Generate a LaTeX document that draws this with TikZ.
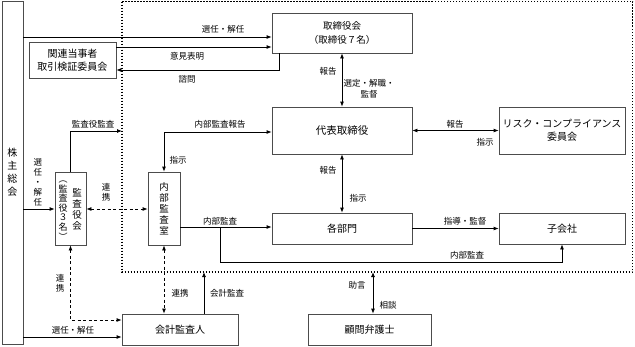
\documentclass[tikz,border=0pt]{standalone}
\usepackage{fontspec}
\setmainfont{Noto Sans CJK JP}
\usetikzlibrary{arrows.meta}
\newcommand\fsz[2]{\fontsize{#1}{#2}\selectfont}
\tikzset{
  bx/.style={draw=black!70, line width=0.8pt, inner sep=0pt, font=\fsz{10}{13}, align=center},
  lbl/.style={font=\fsz{8.5}{10}, inner sep=0pt, align=center},
  arr/.style={line width=0.8pt, -{Latex[length=5pt,width=4pt]}},
  darr/.style={line width=0.8pt, {Latex[length=5pt,width=4pt]}-{Latex[length=5pt,width=4pt]}},
  dsh/.style={dash pattern=on 3pt off 2.5pt},
  dotb/.style={line width=1.5pt, dash pattern=on 1.5pt off 1.5pt}
}
\begin{document}
\begin{tikzpicture}[x=1pt,y=-1pt]
\useasboundingbox (0,0) rectangle (635,346);
\draw[dotb] (122,1.5) rectangle (632.5,272);

% boxes
\node[bx, minimum width=21pt, minimum height=343pt] (kabu) at (12.5,172.5) {株\\主\\総\\会};
\node[bx, minimum width=140pt, minimum height=40pt, font=\fsz{9.5}{14}] (tori) at (342,33) {取締役会\\（取締役７名）};
\node[bx, minimum width=87pt, minimum height=36pt] (kanren) at (72.5,60) {関連当事者\\取引検証委員会};
\node[bx, minimum width=140pt, minimum height=47pt, font=\fsz{10.5}{13}] (daihyo) at (342,130.5) {代表取締役};
\node[bx, minimum width=126pt, minimum height=47pt] (risk) at (562,130.5) {リスク・コンプライアンス\\委員会};
\node[bx, minimum width=140pt, minimum height=31pt] (kakubu) at (342,228.5) {各部門};
\node[bx, minimum width=126pt, minimum height=31pt] (ko) at (562,228.5) {子会社};
\node[bx, minimum width=32pt, minimum height=73pt, font=\fsz{9.5}{11}] (naibu) at (164,208.5) {内\\部\\監\\査\\室};
\node[bx, minimum width=31pt, minimum height=73pt] (kansa) at (70.5,208.5) {};
\node[font=\fsz{9}{9.6}, align=center, inner sep=0pt] (kansaL) at (63,210.5) {︵\\監\\査\\役\\３\\名\\︶};
\node[font=\fsz{9.5}{11}, align=center, inner sep=0pt] (kansaR) at (77,209.5) {監\\査\\役\\会};
\node[bx, minimum width=116pt, minimum height=31pt] (kaikei) at (180,329.5) {会計監査人};
\node[bx, minimum width=123pt, minimum height=31pt] (komon) at (369.5,329.5) {顧問弁護士};

% free ends
\coordinate (c1) at (122,131);
\coordinate (c2) at (204,272);
\coordinate (c3) at (373,272);
\coordinate (c4) at (220,227);

% connectors
\draw[arr] (kabu.east |- 0,37) -- (tori.west |- 0,37);
\draw[arr] (kanren.east |- 0,47) -- (tori.west |- 0,47);
\draw[arr] (tori.south -| 279,0) -- (279,70) -- (kanren.east |- 0,70);
\draw[darr] (tori.south) -- (daihyo.north);
\draw[darr] (daihyo.east) -- (risk.west);
\draw[darr] (daihyo.south) -- (kakubu.north);
\draw[arr] (kakubu.east) -- (ko.west);
\draw[arr] (naibu.east |- 0,227) -- (kakubu.west |- 0,227);
\draw[arr] (c4) -- (c4 |- 0,262) -- (ko.south |- 0,262) -- (ko.south);
\draw[darr] (daihyo.west |- 0,132) -- (naibu.north |- 0,132) -- (naibu.north);
\draw[arr] (kansa.north) -- (kansa.north |- c1) -- (c1);
\draw[arr] (kabu.east |- 0,209) -- (kansa.west |- 0,209);
\draw[darr,dsh] (kansa.east |- 0,209) -- (naibu.west |- 0,209);
\draw[darr,dsh] (kansa.south) -- (kansa.south |- 0,320) -- (kaikei.west |- 0,320);
\draw[arr] (kabu.east |- 0,337) -- (kaikei.west |- 0,337);
\draw[darr,dsh] (naibu.south) -- (naibu.south |- kaikei.north);
\draw[arr] (kaikei.north -| c2) -- (c2);
\draw[darr] (c3) -- (komon.north -| c3);

% labels
\node[lbl] (l1) at (223,29) {選任・解任};
\node[lbl] (l2) at (187,56) {意見表明};
\node[lbl] (l3) at (187,79) {諮問};
\node[lbl] (l4) at (328,71) {報告};
\node[lbl, font=\fsz{8.5}{11}] (l5) at (369,89) {選定・解職・\\監督};
\node[lbl] (l6) at (455,124) {報告};
\node[lbl] (l7) at (485,142) {指示};
\node[lbl] (l8) at (328,170) {報告};
\node[lbl] (l9) at (358,198) {指示};
\node[lbl] (l10) at (465,221) {指導・監督};
\node[lbl] (l11) at (220,221) {内部監査};
\node[lbl] (l12) at (467,255) {内部監査};
\node[lbl] (l13) at (220,124) {内部監査報告};
\node[lbl] (l14) at (178,160) {指示};
\node[lbl] (l15) at (93,124) {監査役監査};
\node[lbl] (l16) at (38,182) {選\\任\\・\\解\\任};
\node[lbl] (l17) at (106,192) {連\\携};
\node[lbl] (l18) at (60,283) {連\\携};
\node[lbl] (l19) at (73,330) {選任・解任};
\node[lbl] (l20) at (180,293) {連携};
\node[lbl] (l21) at (227,293) {会計監査};
\node[lbl] (l22) at (357,285) {助言};
\node[lbl] (l23) at (388,305) {相談};
\end{tikzpicture}
\end{document}
